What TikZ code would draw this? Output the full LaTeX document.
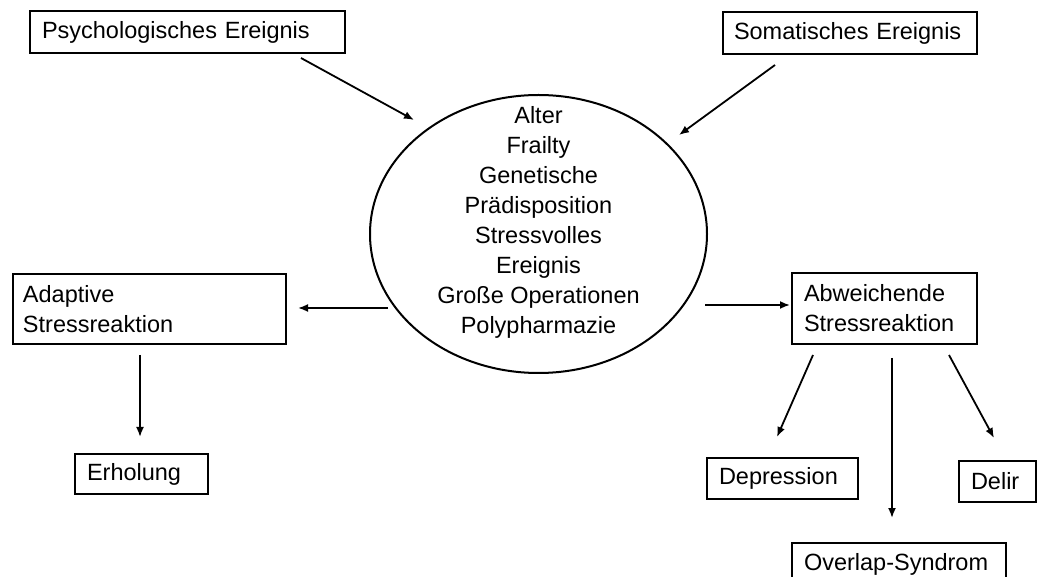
\documentclass[tikz,border=0pt]{standalone}
\usepackage{fontspec}
\setmainfont{Liberation Sans}
\usetikzlibrary{arrows.meta,shapes.geometric}
\begin{document}
\begin{tikzpicture}[x=1pt,y=-1pt,
  box/.style={draw,line width=2pt,rectangle,anchor=north west,align=left,
    font=\fontsize{23.5}{30}\selectfont,inner ysep=0pt},
  conn/.style={line width=1.8pt,-{Latex[length=10pt,width=8pt]}}]
\useasboundingbox (0,0) rectangle (1037,577);
\fill[white] (0,0) rectangle (1037,577);
\node[box,text width=291pt,inner xsep=12pt,minimum height=42pt] (psych) at (29,10) {Psychologisches Ereignis};
\node[box,text width=232pt,inner xsep=11pt,minimum height=42pt] (soma) at (722,11) {Somatisches Ereignis};
\node[draw,line width=2pt,ellipse,minimum width=337pt,minimum height=278pt,inner sep=0pt] (ell) at (538.5,234) {};
\node[align=center,font=\fontsize{23.5}{30}\selectfont] (elltext) at (538.5,222) {Alter\\Frailty\\Genetische\\Prädisposition\\Stressvolles\\Ereignis\\Große Operationen\\Polypharmazie};
\node[box,text width=253pt,inner xsep=10pt,minimum height=70pt] (adapt) at (12,273) {Adaptive\\Stressreaktion};
\node[box,text width=109pt,inner xsep=12pt,minimum height=40pt] (erh) at (74,453) {Erholung};
\node[box,text width=161pt,inner xsep=12pt,minimum height=71pt] (abw) at (791,272) {Abweichende\\Stressreaktion};
\node[box,text width=127pt,inner xsep=12pt,minimum height=41pt] (dep) at (706,457) {Depression};
\node[box,text width=53pt,inner xsep=12pt,minimum height=41pt] (delir) at (958,460) {Delir};
\node[box,text width=190pt,inner xsep=12pt,minimum height=42pt] (over) at (791,542) {Overlap-Syndrom};
% connector end points
\coordinate (p1) at (301,58);  \coordinate (p2) at (414,120);
\coordinate (s1) at (775,65);  \coordinate (s2) at (679,135);
\coordinate (l1) at (388,308); \coordinate (l2) at (298,308);
\coordinate (r1) at (705,305); \coordinate (r2) at (790,305);
\coordinate (a1) at (140,355); \coordinate (a2) at (140,437);
\coordinate (d1) at (813,355); \coordinate (d2) at (777,437);
\coordinate (o1) at (892,358); \coordinate (o2) at (892,518);
\coordinate (e1) at (949,355); \coordinate (e2) at (994,438);
\draw[conn] (p1) -- (p2);
\draw[conn] (s1) -- (s2);
\draw[conn] (l1) -- (l2);
\draw[conn] (r1) -- (r2);
\draw[conn] (a1) -- (a2);
\draw[conn] (d1) -- (d2);
\draw[conn] (o1) -- (o2);
\draw[conn] (e1) -- (e2);
\end{tikzpicture}
\end{document}
